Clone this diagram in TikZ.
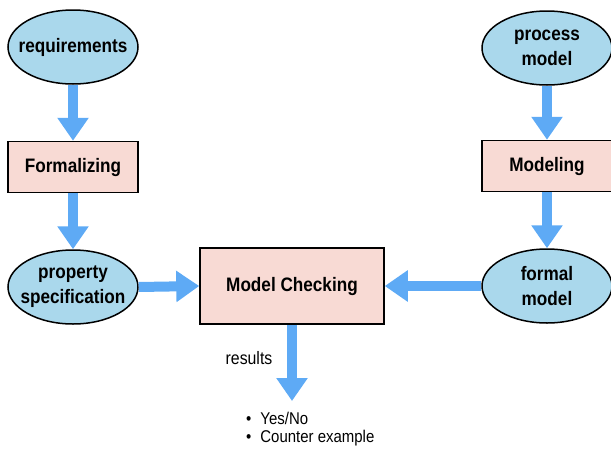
\documentclass[tikz,border=0pt]{standalone}
\usepackage{fontspec}
\setmainfont[FakeStretch=0.88]{Liberation Sans}
\usetikzlibrary{shapes.geometric,arrows.meta}
\definecolor{ellfill}{RGB}{170,216,236}
\definecolor{boxfill}{RGB}{248,218,212}
\definecolor{arrowblue}{RGB}{94,170,245}
\tikzset{
  ell/.style={ellipse, draw=black, line width=1.5pt, fill=ellfill, inner sep=0pt,
    minimum width=130pt, minimum height=74pt},
  elltext/.style={inner sep=0pt, align=center,
    font=\fontsize{19.5}{25}\selectfont\bfseries},
  procbox/.style={rectangle, draw=black, line width=1.5pt, fill=boxfill, inner sep=0pt,
    minimum width=130pt, minimum height=51pt, align=center,
    font=\fontsize{19.5}{25}\selectfont\bfseries},
  bigarrow/.style={draw=arrowblue, line width=10pt,
    -{Triangle[length=23pt,width=30pt]}},
  plain/.style={inner sep=0pt, align=left, font=\fontsize{17}{17.5}\selectfont}
}
\begin{document}
\begin{tikzpicture}[x=1pt,y=-1pt]
\useasboundingbox (0,0) rectangle (611,450);
\node[ell] (req) at (73,47) {};
\node[elltext] (reqt) at (req) {requirements};
\node[procbox] (form) at (73,167) {Formalizing};
\node[ell] (prop) at (73,287) {};
\node[elltext] (propt) at (prop) {property\\specification};
\node[ell] (proc) at (547,48) {};
\node[elltext] (proct) at (proc) {process\\model};
\node[procbox] (mod) at (547,166) {Modeling};
\node[ell] (fm) at (547,286) {};
\node[elltext] (fmt) at (fm) {formal\\model};
\node[procbox, minimum width=184pt, minimum height=76pt] (mc) at (292,286) {Model Checking};
\coordinate (res) at (292,401);
\draw[bigarrow] (req.south) -- (form.north);
\draw[bigarrow] (form.south) -- (prop.north);
\draw[bigarrow] (proc.south) -- (mod.north);
\draw[bigarrow] (mod.south) -- (fm.north);
\draw[bigarrow] (prop.east) -- (mc.west);
\draw[bigarrow] (fm.west) -- (mc.east);
\draw[bigarrow] (mc.south) -- (res);
\node[plain, anchor=center, font=\fontsize{18}{18}\selectfont] (reslab) at (249,358) {results};
\node[plain, anchor=west] (list) at (246,429) {\textbullet\hspace{9pt}Yes/No\\\textbullet\hspace{9pt}Counter example};
\end{tikzpicture}
\end{document}
